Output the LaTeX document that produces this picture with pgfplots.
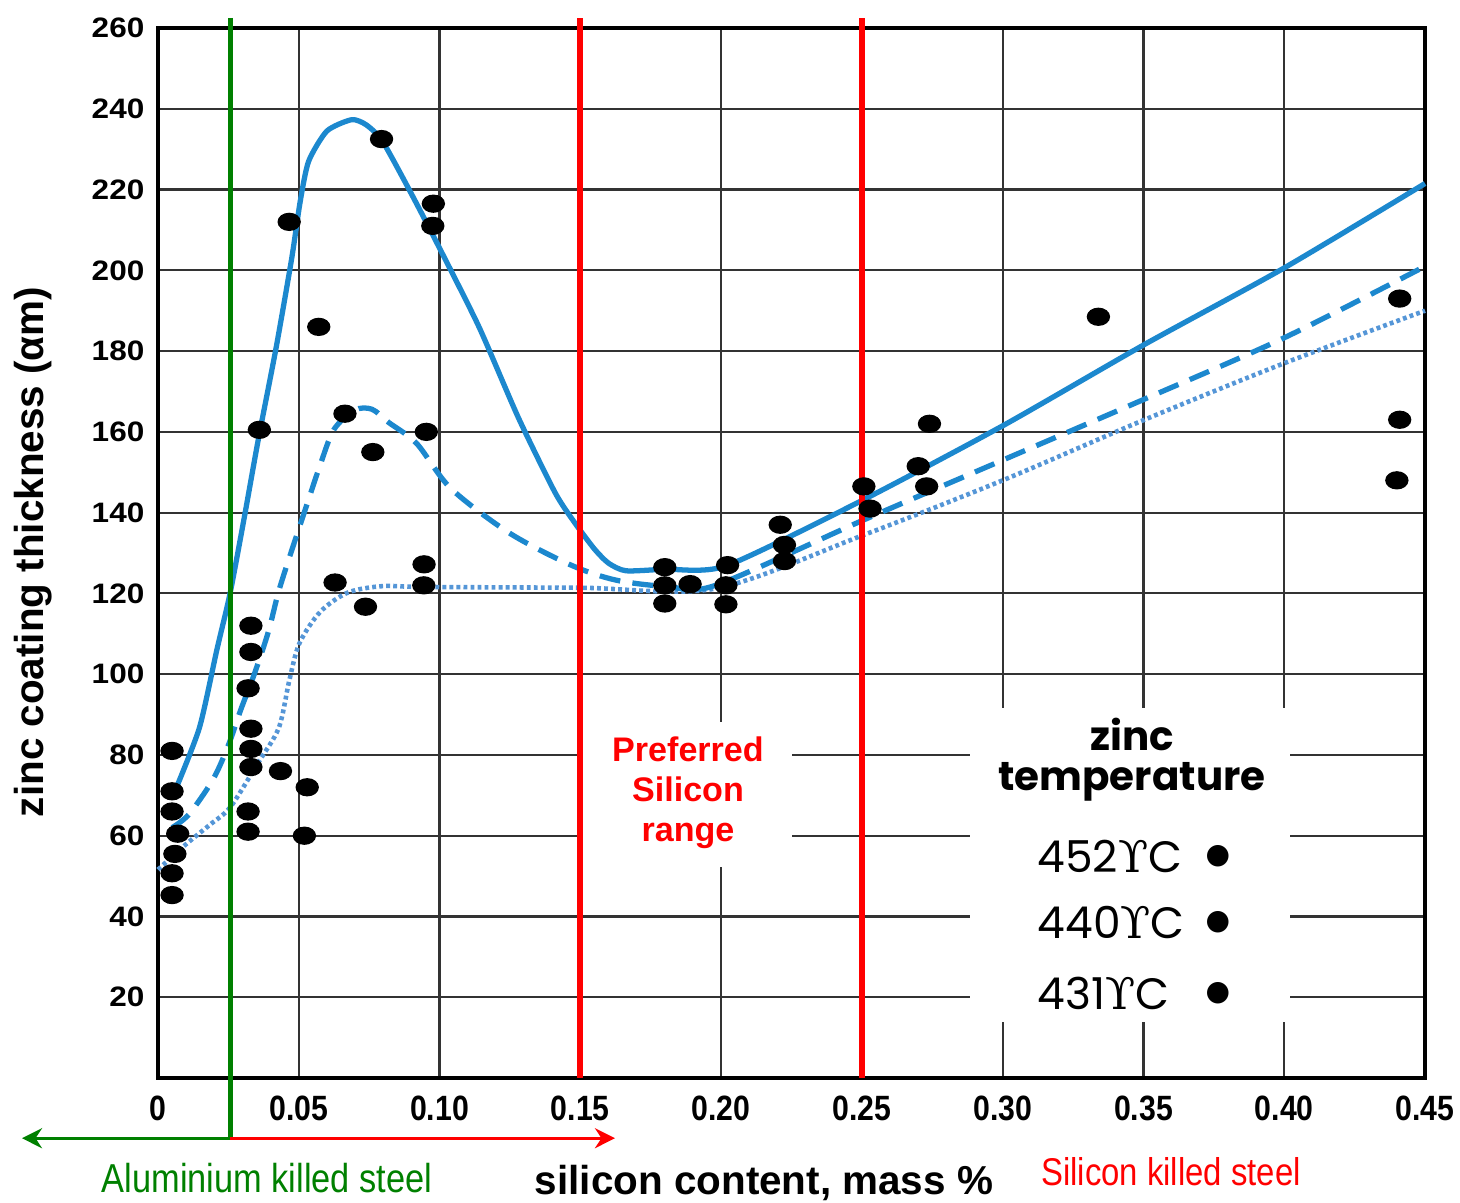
\documentclass[border=0pt]{standalone}
\usepackage{pgfplots}
\pgfplotsset{compat=1.18}
\usepackage{fontspec}
\setmainfont{Liberation Sans}
\usetikzlibrary{arrows.meta}
\newfontfamily\ytfont[FakeStretch=1.12]{Liberation Sans}
\newfontfamily\xtfont[FakeStretch=0.86]{Liberation Sans}
\newfontfamily\narrowfont[FakeStretch=0.85]{Liberation Sans}
\newfontfamily\geofont{Poppins}
\newfontfamily\symfont{DejaVu Serif}
\newfontfamily\dejavu{DejaVu Sans}
\definecolor{curveblue}{RGB}{28,136,206}
\definecolor{dotblue}{RGB}{85,150,215}
\definecolor{myred}{RGB}{255,0,0}
\definecolor{mygreen}{RGB}{0,128,0}
\begin{document}
\begin{tikzpicture}
\begin{axis}[
  scale only axis, width=12.67cm, height=10.5cm,
  xmin=0, xmax=0.45, ymin=0, ymax=260,
  xtick={0,0.05,0.1,0.15,0.2,0.25,0.3,0.35,0.4,0.45},
  xticklabels={0,0.05,0.10,0.15,0.20,0.25,0.30,0.35,0.40,0.45},
  ytick={20,40,60,80,100,120,140,160,180,200,220,240,260},
  yticklabels={20,40,60,80,100,120,140,160,180,200,220,240,260},
  grid=major, major grid style={black!80, line width=0.6pt},
  major tick length=0pt,
  axis line style={black, line width=1pt},
  clip=false,
  /pgf/number format/assume math mode=true,
  xticklabel style={font=\xtfont\bfseries\fontsize{10}{12}\selectfont, inner sep=0pt, anchor=north, yshift=-0.17cm},
  yticklabel style={font=\ytfont\bfseries\fontsize{8}{10}\selectfont, inner sep=0pt, anchor=east, xshift=-0.13cm},
]
% white boxes over the grid
\fill[white] (rel axis cs:0.6409,0.0533) rectangle (rel axis cs:0.8934,0.3524);
\fill[white] (rel axis cs:0.3354,0.201) rectangle (rel axis cs:0.5004,0.339);

% 431 C (dotted)
\addplot[dotblue, line width=1.3pt, dash pattern=on 1.1pt off 0.9pt, smooth, tension=0.5] coordinates {
(0.0,51.6)(0.0098,57.8)(0.0184,62.7)(0.0257,67.1)(0.0355,78)(0.0429,86.7)(0.0466,98.3)(0.0502,107.6)(0.0576,115.4)(0.0674,120.2)(0.0797,121.8)(0.0944,121.6)(0.15,121.4)(0.198,121.2)(0.25,134.3)(0.30,148)(0.35,162.9)(0.40,177)(0.45,190)
};
% 440 C (dashed)
\addplot[curveblue, line width=1.5pt, dash pattern=on 6pt off 3.5pt, smooth, tension=0.5] coordinates {
(0.005,62)(0.011,65.3)(0.0196,74)(0.025,82.4)(0.0294,91.2)(0.0343,100.2)(0.0392,110.5)(0.0429,120.6)(0.0478,131.3)(0.0527,141.6)(0.0576,151.8)(0.0625,160.6)(0.0699,165.4)(0.076,165.6)(0.082,162.3)(0.0919,157.1)(0.104,146)(0.1247,135)(0.1464,127.1)(0.1626,123.3)(0.181,121.7)(0.198,122)(0.25,138)(0.30,153)(0.35,168)(0.40,183.3)(0.45,201)
};
% 452 C (solid)
\addplot[curveblue, line width=1.5pt, smooth, tension=0.4] coordinates {
(0.006,71)(0.0147,86.7)(0.0209,106)(0.0256,120)(0.0307,139)(0.0356,158)(0.042,181)(0.0475,203)(0.0505,217)(0.0535,227)(0.060,234.5)(0.0688,237.3)(0.074,236)(0.0797,232)(0.0895,219.6)(0.100,205.5)(0.114,186)(0.128,163.5)(0.141,145)(0.148,137.5)(0.155,131)(0.160,127.5)(0.1662,125.6)(0.18,126)(0.2017,126.8)(0.25,143)(0.30,161.5)(0.35,181.5)(0.40,200.6)(0.45,221.5)
};
% measured points
\addplot[only marks, mark=*, mark size=2.4pt, mark options={black, fill=black, xscale=1.3}] coordinates {
(0.005,81)(0.005,71)(0.005,66)(0.007,60.5)(0.006,55.5)(0.005,50.7)(0.005,45.3)
(0.033,112)(0.033,105.5)(0.032,96.5)(0.033,86.5)(0.033,81.5)(0.033,77)(0.032,66)(0.032,61)
(0.0435,76)(0.053,72)(0.052,60)
(0.036,160.5)(0.0466,212)(0.0571,186)(0.0664,164.5)(0.0794,232.5)(0.0978,216.5)(0.0976,211)(0.0953,160)(0.0763,155)
(0.0629,122.7)(0.0737,116.7)(0.0945,127.2)(0.0944,122)
(0.18,126.5)(0.18,122)(0.18,117.5)(0.189,122.3)(0.2023,127)(0.2017,122)(0.2017,117.3)
(0.221,137)(0.2225,132)(0.2225,128)
(0.2507,146.5)(0.2529,141)(0.270,151.5)(0.274,162)(0.273,146.5)
(0.334,188.5)(0.441,193)(0.441,163)(0.440,148)
};

% vertical markers
\draw[myred, line width=1.7pt] (axis cs:0.15,0) -- (axis cs:0.15,262.5);
\draw[myred, line width=1.7pt] (axis cs:0.25,0) -- (axis cs:0.25,262.5);
\draw[mygreen, line width=1.5pt] (axis cs:0.0257,262.5) -- (axis cs:0.0257,-14.9);
\draw[mygreen, line width=0.9pt, -{Stealth[length=0.2cm,width=0.2cm]}] (axis cs:0.0257,-14.9) -- (axis cs:-0.0483,-14.9);
\draw[myred, line width=0.9pt, -{Stealth[length=0.2cm,width=0.2cm]}] (axis cs:0.0257,-14.9) -- (axis cs:0.1623,-14.9);

% text
\node[myred, font=\bfseries\fontsize{9.7}{11.4}\selectfont, align=center] at (rel axis cs:0.4183,0.2714) {Preferred\\Silicon\\range};
\node[font=\geofont\bfseries\fontsize{11.5}{11.4}\selectfont, align=center, inner sep=0pt] at (rel axis cs:0.7687,0.3029) {zinc\\temperature};
\node[anchor=west, inner sep=0pt, font=\geofont\fontsize{12.5}{14}\selectfont] at (rel axis cs:0.6938,0.2114) {452{\symfont ϒ}C};
\node[anchor=west, inner sep=0pt, font=\geofont\fontsize{12.5}{14}\selectfont] at (rel axis cs:0.6938,0.1486) {440{\symfont ϒ}C};
\node[anchor=west, inner sep=0pt, font=\geofont\fontsize{12.5}{14}\selectfont] at (rel axis cs:0.6938,0.081) {431{\symfont ϒ}C};
\node[font=\dejavu\fontsize{8}{9}\selectfont] at (rel axis cs:0.8366,0.2114) {●};
\node[font=\dejavu\fontsize{8}{9}\selectfont] at (rel axis cs:0.8366,0.1486) {●};
\node[font=\dejavu\fontsize{8}{9}\selectfont] at (rel axis cs:0.8366,0.081) {●};

\node[rotate=90, font=\bfseries\fontsize{11.5}{13}\selectfont] at (rel axis cs:-0.0987,0.501) {zinc coating thickness (αm)};
\node[font=\bfseries\fontsize{11.5}{13}\selectfont] at (rel axis cs:0.4783,-0.1) {silicon content, mass \%};
\node[mygreen, font=\narrowfont\fontsize{11.5}{13}\selectfont] at (rel axis cs:0.086,-0.0952) {Aluminium killed steel};
\node[myred, font=\narrowfont\fontsize{11}{13}\selectfont] at (rel axis cs:0.7995,-0.0895) {Silicon killed steel};

\coordinate (bbsw) at (rel axis cs:-0.1247,-0.119);
\coordinate (bbne) at (rel axis cs:1.0276,1.0267);
\end{axis}
\pgfresetboundingbox
\useasboundingbox (bbsw) rectangle (bbne);
\end{tikzpicture}
\end{document}
